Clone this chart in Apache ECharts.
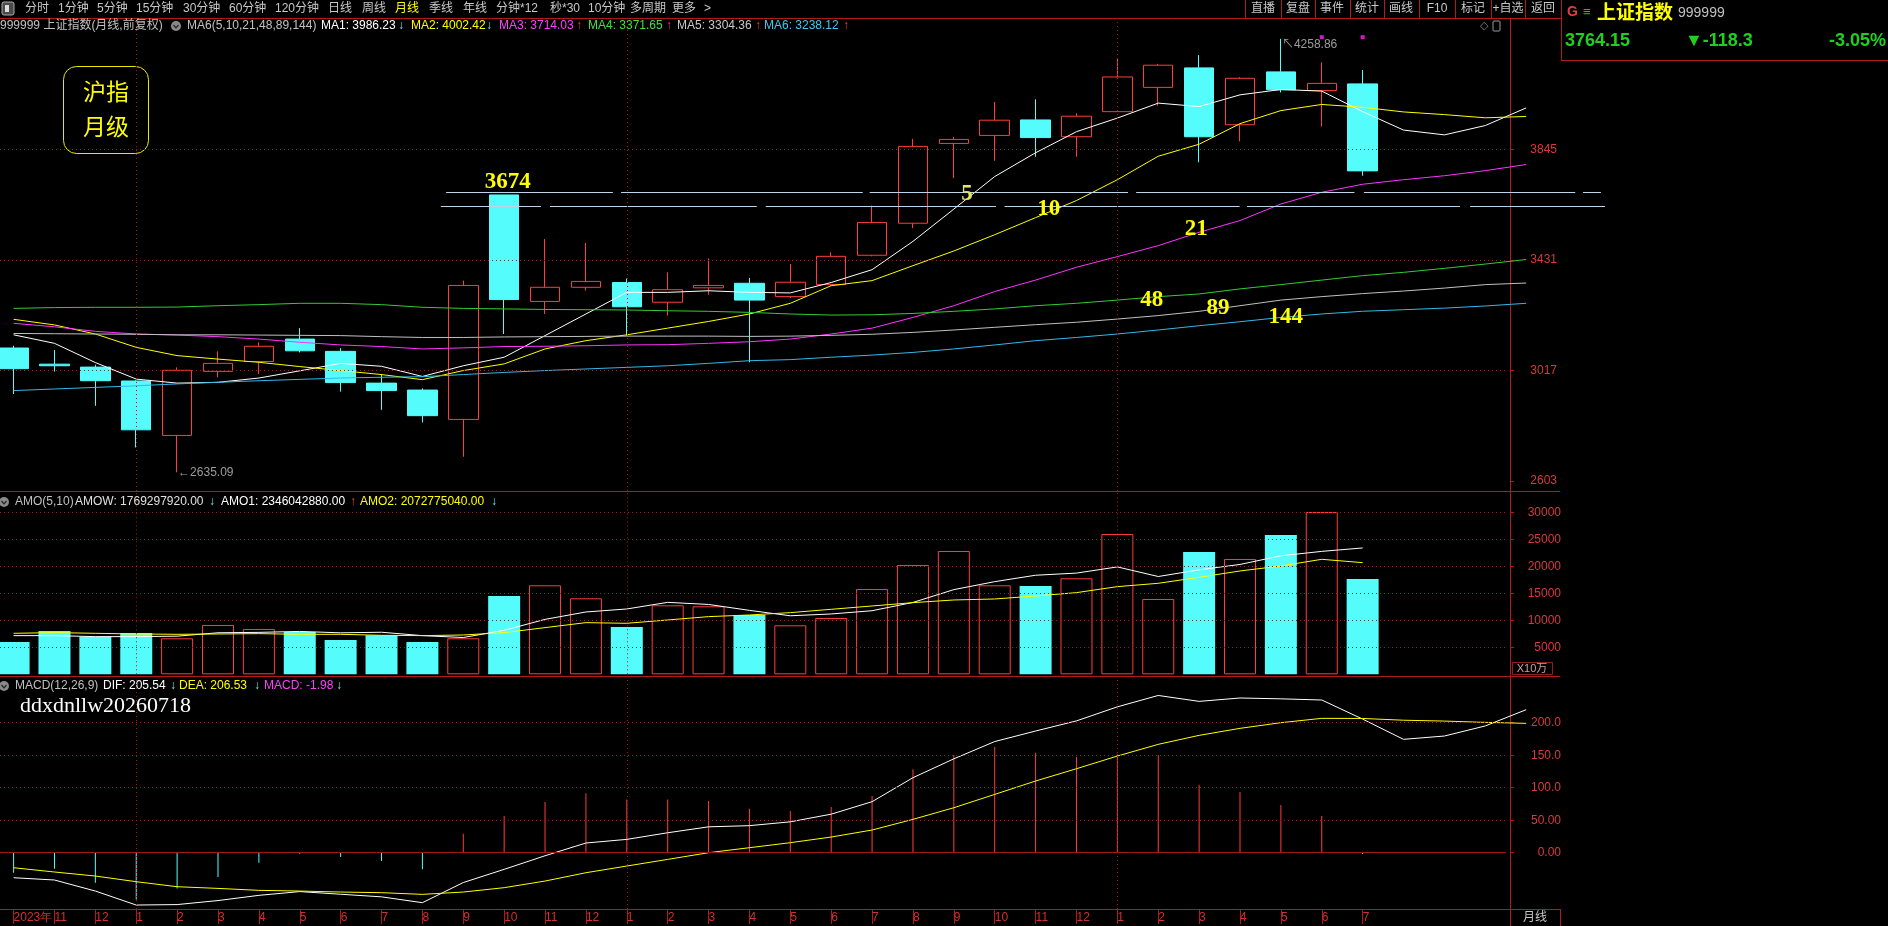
<!DOCTYPE html>
<html><head><meta charset="utf-8">
<script src="https://cdn.jsdelivr.net/npm/echarts@6/dist/echarts.min.js"></script>
<style>html,body{margin:0;padding:0;background:#000;}#c{width:1888px;height:926px;}</style>
</head><body><div id="c"></div>
<script>
// ---------------- DATA ----------------
const months = ['2023-10','2023-11','2023-12','2024-01','2024-02','2024-03','2024-04','2024-05','2024-06','2024-07','2024-08','2024-09','2024-10','2024-11','2024-12','2025-01','2025-02','2025-03','2025-04','2025-05','2025-06','2025-07','2025-08','2025-09','2025-10','2025-11','2025-12','2026-01','2026-02','2026-03','2026-04','2026-05','2026-06','2026-07'];
const monthTickLabels = ['2023年','11','12','1','2','3','4','5','6','7','8','9','10','11','12','1','2','3','4','5','6','7','8','9','10','11','12','1','2','3','4','5','6','7'];

const openP  = [3100.5,3040,3029,2977,2773,3013,3050,3134,3088,2969,2943,2833,3674,3275,3328,3346,3272,3326,3343,3293,3338,3448,3568,3867,3897,3955,3892,3986,4077,4150,3937,4135,4065,4090];
const closeP = [3023,3034,2978,2794,3017,3043,3107,3090,2971,2941,2847,3335,3282,3328,3350,3255,3319,3335,3280,3347,3444,3571,3856,3882,3954,3889,3969,4116,4160,3892,4111,4068,4092,3764.15];
const lowP   = [2928,3012,2884,2728,2635.09,2991,3003,3084,2937,2869,2822,2693,3153,3228,3316,3147,3222,3300,3047,3288,3334,3444,3550,3737,3802,3817,3817,3986,4008,3796,3875,4058,3930,3746];
const highP  = [3109,3093,3038,2980,3028,3088,3122,3175,3100,3003,2949,3353,3674,3509,3494,3361,3384,3436,3363,3415,3459,3634,3884,3892,4022,4032,3980,4187,4165,4198,4115,4258.86,4171,4142];

// moving averages (last 4 values are the projected points after the final month)
const ma5   = [3150,3118,3046,2984,2969,2972,2988,3015,3043,3032,2994,3034,3066,3147,3228,3309,3309,3315,3309,3307,3346,3394,3500,3621,3743,3832,3911,3962,4018,4005,4049,4069,4063,3986.23,3917,3899,3934,4000];
const ma10  = [3208,3187,3153,3103,3072,3059,3047,3031,3016,3001,2982,3016,3041,3097,3128,3150,3175,3200,3228,3268,3334,3353,3409,3464,3525,3589,3653,3731,3819,3864,3941,3990,4013,4002.42,3985,3975,3963,3968];
const ma21  = [3193,3180,3163,3153,3149,3143,3134,3122,3112,3106,3097,3101,3106,3107,3109,3112,3113,3118,3124,3134,3153,3175,3215,3259,3312,3355,3403,3443,3484,3534,3578,3640,3684,3714.03,3731,3746,3765,3788];
const ma48  = [3249,3252,3253,3253,3254,3259,3263,3268,3268,3263,3253,3249,3247,3245,3244,3243,3240,3238,3234,3228,3224,3225,3230,3238,3247,3259,3268,3280,3293,3303,3322,3338,3355,3371.65,3384,3399,3415,3432];
const ma89  = [3155,3154,3153,3152,3150,3150,3149,3148,3147,3143,3140,3140,3142,3143,3144,3145,3145,3145,3144,3145,3148,3152,3159,3168,3178,3188,3197,3209,3222,3238,3259,3280,3293,3304.36,3314,3325,3338,3344];
const ma144 = [2941,2947,2953,2959,2966,2972,2978,2983,2988,2991,2993,3001,3009,3016,3022,3028,3034,3043,3053,3057,3066,3074,3084,3097,3112,3128,3140,3153,3168,3184,3199,3215,3228,3238.12,3244,3250,3258,3268];

// amount, unit x10万
const amount = [6002,8044,6992,7673,6683,9158,8416,7859,6374,7240,6002,6683,14542,16522,14109,8787,12809,12624,11015,9096,10458,15841,20297,22896,16522,16398,17821,26051,13985,22710,21410,25866,30135,17693];
const amo1 = [7178,7178,6992,6992,7079,7710,7784,7958,7698,7809,7178,6832,8168,10198,11572,12129,13354,12970,11869,10866,11200,11807,13341,15718,17203,18391,18787,19938,18155,19393,20395,22004,22821,23460];
const amo2 = [7611,7735,7611,7487,7426,7487,7549,7426,7426,7240,7178,7302,7735,8663,9591,9468,10086,10705,11015,11448,12067,12686,13304,13799,13985,14542,15161,16274,16893,18007,19183,20111,21349,20728];

const macdHist = [-30.8,-24.6,-46.2,-71.8,-54.9,-37.4,-15.4,-1.5,-6.7,-12.8,-25.6,29.2,56.4,77.9,91.3,82,82,79.5,67.7,64.1,70.3,87.2,128.2,150.3,162.6,153.8,147.2,151.3,150.3,104.6,93.3,73.3,56.4,-1.98];
const dif = [-38.5,-42,-59,-80.5,-79.8,-73.6,-65.6,-59.8,-63.9,-67.9,-76.9,-45.9,-25.6,-4.7,14.9,20.5,30.7,39.8,41.6,47.5,59.3,78.5,115.4,144.4,171,187.2,202.8,224.4,241.9,232.8,238,236.7,234.9,205.54,174.4,179.5,195,220];
const dea = [-23.1,-29.7,-35.9,-44.6,-52.3,-54.9,-57.9,-59,-60.5,-61.5,-64.1,-60.5,-53.8,-43.6,-30.8,-20.5,-10.3,0,7.7,15.4,24.1,34.9,51.3,69.2,89.7,110.3,129.2,148.7,166.7,180.5,191.3,200,206.7,206.53,203.8,202.5,200.5,199];

const priceTicks  = [2603,3017,3431,3845];
const priceGrid   = [3017,3431,3845];
const amountTicks = [5000,10000,15000,20000,25000,30000];
const macdTicks   = [0,50,100,150,200];

// hand-drawn horizontal lines (price level, dash segments in slot units)
const drawnLines = [
  {price:3684, segs:[[10.58,14.66],[14.86,20.77],[20.94,27.26],[27.46,32.80],[33.03,38.2],[38.39,38.83]]},
  {price:3634, segs:[[10.45,12.9],[13.12,18.18],[18.4,24.03],[24.24,29.99],[30.17,35.38],[35.63,38.93]]}
];
// text annotations on the price chart (slot position, price level)
const annotations = [
  {text:'3674', slot:12.09, price:3721, color:'#ffff00'},
  {text:'5',    slot:23.32, price:3676, color:'#e6e65a'},
  {text:'10',   slot:25.32, price:3620, color:'#ffff00'},
  {text:'21',   slot:28.93, price:3548, color:'#ffff00'},
  {text:'48',   slot:27.84, price:3280, color:'#ffff00'},
  {text:'89',   slot:29.46, price:3250, color:'#ffff00'},
  {text:'144',  slot:31.12, price:3218, color:'#ffff00'}
];
const signalSlots = [32,33];
const signalPrice = 4265;

// ---------------- CHART ----------------
const RED='#ff3c3c', CYAN='#54fcfc', LINE='#b01c1c', AXT='#d83a3a', DOT='#a01818';
const SANS='"Liberation Sans","Noto Sans CJK SC",sans-serif';
const slotW = 40.88, firstCenter = 13.6, gridW = 1546, axisX = 1510;
const xMin = -firstCenter/slotW, xMax = xMin + gridW/slotW;
const gridEndSlot = xMin + axisX/slotW - 0.1;   // dotted lines stop at the price axis
const yOff = axisX - gridW;
const janIdx = months.map((m,i)=>m.endsWith('-01')?i:-1).filter(i=>i>=0);
const last = months.length-1;
const idx = months.map((m,i)=>i);
const pts = arr=>arr.map((v,i)=>[i,v]);

function xAx(gi){return {type:'value',gridIndex:gi,min:xMin,max:xMax,
  axisLine:{show:false,onZero:false},axisTick:{show:false},axisLabel:{show:false},splitLine:{show:false}};}
function yAx(gi,min,max,ticks,margin,fmt){return {type:'value',gridIndex:gi,position:'right',offset:yOff,
  min,max,axisLine:{show:false,onZero:false},
  axisTick:{show:true,customValues:ticks,length:4,lineStyle:{color:LINE}},
  axisLabel:{show:true,customValues:ticks,margin,align:'right',color:AXT,fontSize:12,fontFamily:SANS,formatter:fmt},
  splitLine:{show:false}};}
function hLine(v,style){return [{coord:[xMin,v],lineStyle:style},{coord:[gridEndSlot,v]}];}
function marks(values,extra){
  const data=values.map(v=>hLine(v)).concat(janIdx.map(i=>({xAxis:i}))).concat(extra||[]);
  return {silent:true,symbol:['none','none'],label:{show:false},lineStyle:{color:DOT,type:[1,3],width:1},data,animation:false};
}
function maLine(name,data,color){return {name,type:'line',xAxisIndex:0,yAxisIndex:0,data:pts(data),symbol:'none',
  lineStyle:{color,width:1},z:3,silent:true};}

const candleData = openP.map((o,i)=>[i,o,closeP[i],lowP[i],highP[i]]);
const amountData = amount.map((v,i)=>({value:[i,v],itemStyle:closeP[i]>=openP[i]?{color:'rgba(0,0,0,0)',borderColor:RED,borderWidth:1}:{color:CYAN}}));
const histData = macdHist.map((v,i)=>({value:[i,v],itemStyle:{color:v>=0?RED:CYAN}}));

const bottomX = xAx(2);
bottomX.axisLine={show:true,onZero:false,lineStyle:{color:LINE}};
bottomX.axisTick={show:true,customValues:idx,length:15,lineStyle:{color:LINE}};
bottomX.axisLabel={show:true,customValues:idx,align:'left',margin:3,color:'#d03030',fontSize:12,hideOverlap:false,showMinLabel:true,showMaxLabel:true,
  fontFamily:'"Liberation Sans Narrow","Liberation Sans",sans-serif',formatter:(v)=>monthTickLabels[Math.round(v)]||''};

// graphic helpers
const G=[];
function T(x,y,text,fill,font,align){G.push({type:'text',x,y,silent:true,style:{text,fill,font:font||('12px '+SANS),align:align||'left',verticalAlign:'middle'}});}
function L(x1,y1,x2,y2,c){G.push({type:'line',silent:true,shape:{x1,y1,x2,y2},style:{stroke:c||LINE,lineWidth:1}});}
function icon(x,y){G.push({type:'circle',silent:true,shape:{cx:x,cy:y,r:5},style:{fill:'#8a8a8a'}});
  G.push({type:'polyline',silent:true,shape:{points:[[x-2.5,y-1],[x,y+1.8],[x+2.5,y-1]]},style:{stroke:'#222',lineWidth:1.2,fill:null}});}

// toolbar
G.push({type:'rect',silent:true,shape:{x:2,y:2,width:12,height:13,r:2},style:{fill:'#4a4a4a',stroke:'#aaa',lineWidth:1}});
G.push({type:'rect',silent:true,shape:{x:5,y:5,width:4,height:7},style:{fill:'#ddd'}});
[[25,'分时'],[58,'1分钟'],[97,'5分钟'],[136,'15分钟'],[183,'30分钟'],[229,'60分钟'],[275,'120分钟'],[328,'日线'],[362,'周线'],[395,'月线'],[429,'季线'],[463,'年线'],[496,'分钟*12'],[550,'秒*30'],[588,'10分钟'],[630,'多周期'],[672,'更多'],[704,'>']]
 .forEach(([x,t])=>T(x,9,t,t==='月线'?'#ffff00':'#c8c8c8','12px '+SANS));
[[1263,'直播'],[1298,'复盘'],[1332,'事件'],[1367,'统计'],[1401,'画线'],[1437,'F10'],[1473,'标记'],[1508,'+自选'],[1543,'返回']]
 .forEach(([x,t])=>T(x,9,t,'#c8c8c8','12px '+SANS,'center'));
[1245,1281,1315,1350,1384,1419,1455,1491,1525].forEach(x=>L(x+0.5,0,x+0.5,18));
L(0,18.5,1562,18.5);
// info panel
L(1561.5,0,1561.5,61); L(1561,60.5,1888,60.5);
T(1567,12,'G','#e04040','bold 14px '+SANS);
T(1583,12,'≡','#3cb43c','13px '+SANS);
T(1597,12,'上证指数','#ffff00','bold 19px "Noto Sans CJK SC",sans-serif');
T(1678,13,'999999','#c0c0c0','14px '+SANS);
T(1565,41,closeP[last].toFixed(2),'#20d020','bold 18px '+SANS);
T(1685,41,'▼-118.3','#20d020','bold 18px '+SANS);
T(1886,41,'-3.05%','#20d020','bold 18px '+SANS,'right');
// panel frame lines
L(axisX+0.5,18,axisX+0.5,926);
L(0,491.5,1560,491.5); L(0,676.5,1560,676.5); L(0,909.5,1560,909.5);
L(1560.5,909,1560.5,926);
T(1535,918,'月线','#c8c8c8','12px '+SANS,'center');
G.push({type:'rect',silent:true,shape:{x:1512.5,y:662.5,width:40,height:12},style:{fill:null,stroke:'#8a2020',lineWidth:1}});
T(1532,668.5,'X10万','#d0a0a0','11px '+SANS,'center');
T(1480,26,'◇','#888','11px DejaVu Sans');
G.push({type:'rect',silent:true,shape:{x:1493,y:21,width:7,height:10,r:1},style:{fill:null,stroke:'#999',lineWidth:1}});
// main legend
const f2=v=>v.toFixed(2);
T(0,26,'999999 上证指数(月线,前复权)','#c0c0c0'); icon(176,26);
T(187,26,'MA6(5,10,21,48,89,144)','#c0c0c0');
T(321,26,'MA1: '+f2(ma5[last]),'#ffffff'); T(398,26,'↓',CYAN);
T(411,26,'MA2: '+f2(ma10[last]),'#ffff00'); T(486,26,'↓',CYAN);
T(499,26,'MA3: '+f2(ma21[last]),'#ff40ff'); T(576,26,'↑',RED);
T(588,26,'MA4: '+f2(ma48[last]),'#40e040'); T(666,26,'↑',RED);
T(677,26,'MA5: '+f2(ma89[last]),'#c8c8c8'); T(755,26,'↑',RED);
T(764,26,'MA6: '+f2(ma144[last]),'#40c8f0'); T(843,26,'↑',RED);
// amo legend
icon(4,502); T(15,502,'AMO(5,10)','#c0c0c0');
T(75,502,'AMOW: 1769297920.00','#e0e0e0'); T(209,502,'↓',CYAN);
T(221,502,'AMO1: 2346042880.00','#ffffff'); T(350,502,'↑',RED);
T(360,502,'AMO2: 2072775040.00','#ffff00'); T(491,502,'↓',CYAN);
// macd legend
icon(4,686); T(15,686,'MACD(12,26,9)','#c0c0c0');
T(103,686,'DIF: '+f2(dif[last]),'#ffffff'); T(170,686,'↓',CYAN);
T(179,686,'DEA: '+f2(dea[last]),'#ffff00'); T(254,686,'↓',CYAN);
T(264,686,'MACD: '+f2(macdHist[last]),'#ff40ff'); T(336,686,'↓',CYAN);
T(20,706,'ddxdnllw20260718','#ffffff','22px "Liberation Serif",serif');
// title box
G.push({type:'rect',silent:true,shape:{x:63.5,y:66.5,width:85,height:87,r:13},style:{fill:null,stroke:'#e8e800',lineWidth:1}});
T(106,91,'沪指','#ffff00','23px "Noto Sans CJK SC",sans-serif','center');
T(106,126,'月级','#ffff00','23px "Noto Sans CJK SC",sans-serif','center');

const lowIdx = lowP.indexOf(Math.min(...lowP)), highIdx = highP.indexOf(Math.max(...highP));

const option = {
  backgroundColor:'#000',
  animation:false,
  grid:[
    {left:0,top:18,width:gridW,height:473},
    {left:0,top:493,width:gridW,height:181.3},
    {left:0,top:677,width:gridW,height:232}
  ],
  xAxis:[xAx(0),xAx(1),bottomX],
  yAxis:[
    yAx(0,2564.8,4336.9,priceTicks,47,v=>String(v)),
    yAx(1,0,33660,amountTicks,51,v=>String(v)),
    yAx(2,-86.6,270.3,macdTicks,51,v=>v===0?'0.00':(v<100?v.toFixed(2):v.toFixed(1)))
  ],
  graphic:G,
  series:[
    {name:'K',type:'candlestick',xAxisIndex:0,yAxisIndex:0,data:candleData,encode:{x:0,y:[1,2,3,4]},barWidth:30,silent:true,z:2,
      itemStyle:{color:'rgba(0,0,0,0)',color0:CYAN,borderColor:RED,borderColor0:CYAN,borderWidth:1},
      markLine:marks(priceGrid)},
    maLine('MA5',ma5,'#ffffff'),
    maLine('MA10',ma10,'#ffff00'),
    maLine('MA21',ma21,'#ff33ff'),
    maLine('MA48',ma48,'#33cc33'),
    maLine('MA89',ma89,'#c0c0c0'),
    maLine('MA144',ma144,'#33b8e8'),
    {name:'signal',type:'scatter',xAxisIndex:0,yAxisIndex:0,symbol:'rect',symbolSize:4,silent:true,
      itemStyle:{color:'#ff20ff'},data:signalSlots.map(i=>[i,signalPrice])},
    {name:'extremes',type:'scatter',xAxisIndex:0,yAxisIndex:0,symbolSize:0,silent:true,z:5,
      data:[
        {value:[lowIdx,lowP[lowIdx]],label:{show:true,position:'right',distance:1,formatter:'←'+lowP[lowIdx].toFixed(2),color:'#c0c0c0',fontSize:12,fontFamily:SANS}},
        {value:[highIdx,highP[highIdx]],label:{show:true,position:'right',distance:1,offset:[0,6],formatter:'↖'+highP[highIdx].toFixed(2),color:'#c0c0c0',fontSize:12,fontFamily:SANS}}
      ]},
    {name:'drawn',type:'custom',xAxisIndex:0,yAxisIndex:0,silent:true,z:4,clip:false,
      data:drawnLines.map(l=>[0,l.price]),
      renderItem:(params,api)=>{
        const l=drawnLines[params.dataIndex];
        return {type:'group',children:l.segs.map(s=>{
          const a=api.coord([s[0],l.price]), b=api.coord([s[1],l.price]);
          const y=Math.round(a[1])+0.5;
          return {type:'line',shape:{x1:a[0],y1:y,x2:b[0],y2:y},style:{stroke:'#bcd4ea',lineWidth:1}};
        })};
      }},
    {name:'notes',type:'custom',xAxisIndex:0,yAxisIndex:0,silent:true,z:6,clip:false,
      data:annotations.map(a=>[a.slot,a.price]),
      renderItem:(params,api)=>{
        const a=annotations[params.dataIndex];
        const p=api.coord([a.slot,a.price]);
        return {type:'text',x:p[0],y:p[1],style:{text:a.text,fill:a.color,font:'bold 23px "Liberation Serif",serif',align:'center',verticalAlign:'middle'}};
      }},
    {name:'AMO',type:'bar',xAxisIndex:1,yAxisIndex:1,data:amountData,barWidth:32,silent:true,
      markLine:marks(amountTicks)},
    {name:'AMO1',type:'line',xAxisIndex:1,yAxisIndex:1,data:pts(amo1),symbol:'none',silent:true,lineStyle:{color:'#ffffff',width:1}},
    {name:'AMO2',type:'line',xAxisIndex:1,yAxisIndex:1,data:pts(amo2),symbol:'none',silent:true,lineStyle:{color:'#ffff00',width:1}},
    {name:'MACD',type:'bar',xAxisIndex:2,yAxisIndex:2,data:histData,barWidth:1,silent:true,
      markLine:marks(macdTicks.filter(v=>v!==0),[hLine(0,{type:'solid',color:'#a01818'})])},
    {name:'DIF',type:'line',xAxisIndex:2,yAxisIndex:2,data:pts(dif),symbol:'none',silent:true,lineStyle:{color:'#ffffff',width:1}},
    {name:'DEA',type:'line',xAxisIndex:2,yAxisIndex:2,data:pts(dea),symbol:'none',silent:true,lineStyle:{color:'#ffff00',width:1}}
  ]
};
const chart = echarts.init(document.getElementById('c'),null,{width:1888,height:926});
chart.setOption(option);
</script>
</body></html>
